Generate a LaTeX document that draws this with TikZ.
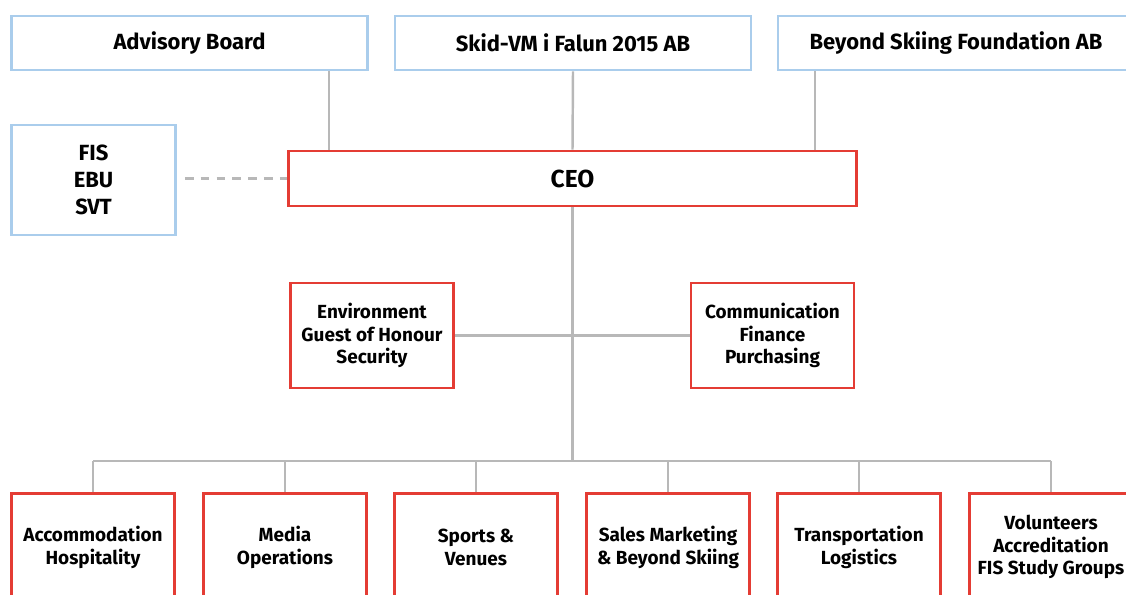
\documentclass[tikz,border=0pt]{standalone}
\usepackage{fontspec}
\setmainfont{Fira Sans}
\definecolor{boardblue}{RGB}{170,205,236}
\definecolor{orgred}{RGB}{228,60,52}
\definecolor{linegray}{RGB}{184,184,184}
\begin{document}
\begin{tikzpicture}[x=0.02cm,y=-0.02cm,
    board/.style={draw=boardblue,line width=1.6pt,fill=white,align=center,inner sep=0pt,
      font=\fontsize{12.5}{15.3}\selectfont\bfseries},
    unit/.style={draw=orgred,line width=1.6pt,fill=white,align=center,inner sep=0pt,
      minimum width=3.26cm,font=\fontsize{10.8}{13}\selectfont\bfseries},
    link/.style={draw=linegray,line width=1.4pt}]
  %%%%% FRAME %%%%%
  \useasboundingbox (0,0) rectangle (1126,595);
  \clip (0,0) rectangle (1126,595);

  %%%%% OWNERS %%%%%
  \node[board,minimum width=7.12cm,minimum height=1.08cm] (adv) at (189.5,43) {Advisory Board};
  \node[board,minimum width=7.12cm,minimum height=1.08cm] (skid) at (573,43) {Skid-VM i Falun 2015 AB};
  \node[board,minimum width=7.12cm,minimum height=1.08cm] (beyond) at (956,43) {Beyond Skiing Foundation AB};
  \node[board,minimum width=3.28cm,minimum height=2.2cm] (fis) at (93.5,180) {FIS\\EBU\\SVT};

  %%%%% MANAGEMENT %%%%%
  \node[unit,minimum width=11.36cm,minimum height=1.1cm,font=\fontsize{14}{16}\selectfont\bfseries] (ceo) at (572.5,178.5) {CEO};
  \node[unit,minimum height=2.1cm] (env) at (372,335.5) {Environment\\Guest of Honour\\Security};
  \node[unit,minimum height=2.1cm] (comm) at (772.5,335.5) {Communication\\Finance\\Purchasing};

  %%%%% DEPARTMENTS %%%%%
  \node[unit,minimum height=2.15cm] (acc) at (93,547) {Accommodation\\Hospitality};
  \node[unit,minimum height=2.15cm] (media) at (285,547) {Media\\Operations};
  \node[unit,minimum height=2.15cm] (sport) at (476,547) {Sports \&\\Venues};
  \node[unit,minimum height=2.15cm] (sales) at (668,547) {Sales Marketing\\\& Beyond Skiing};
  \node[unit,minimum height=2.15cm] (trans) at (859,547) {Transportation\\Logistics};
  \node[unit,minimum height=2.15cm] (vol) at (1051,547) {Volunteers\\Accreditation\\FIS Study Groups};

  %%%%% LINKS %%%%%
  \coordinate (advdrop) at (329,71);
  \coordinate (beyonddrop) at (815,71);
  \coordinate (bus) at (572.5,461);
  \draw[link] (advdrop) -- (advdrop |- ceo.north);
  \draw[link] (skid.south) -- (ceo.north);
  \draw[link] (beyonddrop) -- (beyonddrop |- ceo.north);
  \draw[link,dash pattern=on 5pt off 4pt] ([xshift=0.16cm]fis.east |- ceo.west) -- (ceo.west);
  \draw[link] (ceo.south) -- (bus);
  \draw[link] (env.east) -- (comm.west);
  \draw[link] (acc.north |- bus) -- (vol.north |- bus);
  \foreach \dept in {acc,media,sport,sales,trans,vol}
    \draw[link] (\dept.north |- bus) -- (\dept.north);
\end{tikzpicture}
\end{document}
